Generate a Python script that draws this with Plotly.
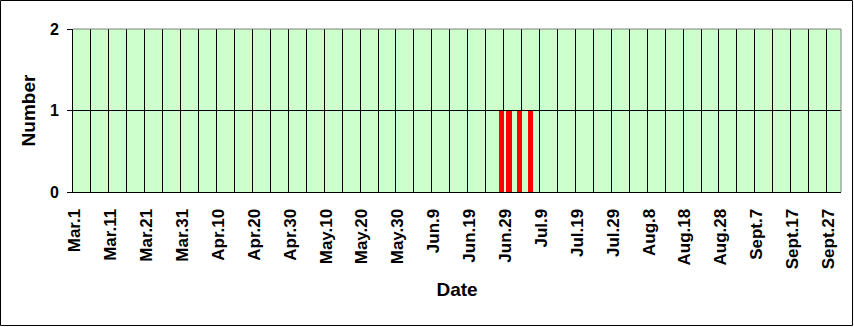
import plotly.graph_objects as go
import datetime as dt

# Categories: every day from Mar.1 to Sept.30
month_names = {3: "Mar.", 4: "Apr.", 5: "May.", 6: "Jun.", 7: "Jul.", 8: "Aug.", 9: "Sept."}
start = dt.date(2000, 3, 1)
end = dt.date(2000, 9, 30)
days = []
d = start
while d <= end:
    days.append(f"{month_names[d.month]}{d.day}")
    d += dt.timedelta(days=1)

# Observed counts (non-zero days only)
event_days = ["Jun.28", "Jun.30", "Jul.3", "Jul.6"]
event_counts = [1, 1, 1, 1]

# Tick labels every 10 days
tick_step = 10
grid_step = 5

counts = {k: v for k, v in zip(event_days, event_counts)}
idx = list(range(len(days)))
values = [counts.get(day, 0) for day in days]
tick_idx = idx[::tick_step]
tick_text = [days[i] for i in tick_idx]

W, H = 854, 327
ml, mr, mt, mb = 73, 13, 29, 135
pw, ph = W - ml - mr, H - mt - mb

font_family = "Arial, Liberation Sans, sans-serif"

fig = go.Figure()
fig.add_trace(go.Bar(
    x=[i for i, v in zip(idx, values) if v > 0],
    y=[v for v in values if v > 0],
    width=1.45,
    marker=dict(color="#ff0000", line=dict(width=0)),
    showlegend=False,
))

fig.update_layout(
    width=W, height=H,
    margin=dict(l=ml, r=mr, t=mt, b=mb),
    paper_bgcolor="white",
    plot_bgcolor="#ccffcc",
    font=dict(family=font_family, color="black"),
    bargap=0,
    xaxis=dict(
        range=[-0.5, len(days) - 0.5],
        tickmode="array",
        tickvals=tick_idx,
        ticktext=tick_text,
        tickangle=-90,
        tickfont=dict(size=17, family=font_family, weight="bold"),
        ticklabelstandoff=9,
        showgrid=False,
        zeroline=False,
        showline=True, linecolor="black", linewidth=1,
        ticks="",
        minor=dict(tick0=grid_step - 0.5, dtick=grid_step, showgrid=True,
                   gridcolor="black", gridwidth=1, ticks=""),
        title=dict(text="<b>Date</b>", font=dict(size=19), standoff=14),
    ),
    yaxis=dict(
        range=[0, 2],
        tickvals=[0, 1, 2],
        tickfont=dict(size=16, family=font_family, weight="bold"),
        ticklabelstandoff=5,
        showgrid=True, gridcolor="black", gridwidth=1,
        zeroline=False,
        showline=True, linecolor="black", linewidth=1,
        ticks="outside", ticklen=5, tickcolor="black",
        title=dict(text="<b>Number</b>", font=dict(size=19), standoff=9),
    ),
    shapes=[
        dict(type="line", xref="paper", yref="paper", x0=0, x1=1, y0=1, y1=1,
             line=dict(color="#808080", width=1), layer="above"),
        dict(type="line", xref="paper", yref="paper", x0=1, x1=1, y0=0, y1=1,
             line=dict(color="#808080", width=1), layer="above"),
        dict(type="rect", xref="paper", yref="paper",
             x0=(-ml + 0.5) / pw, x1=(pw + mr - 1.5) / pw,
             y0=(-mb + 1.5) / ph, y1=(ph + mt - 0.5) / ph,
             line=dict(color="black", width=1), layer="above"),
    ],
)

fig.write_html("out.html")
